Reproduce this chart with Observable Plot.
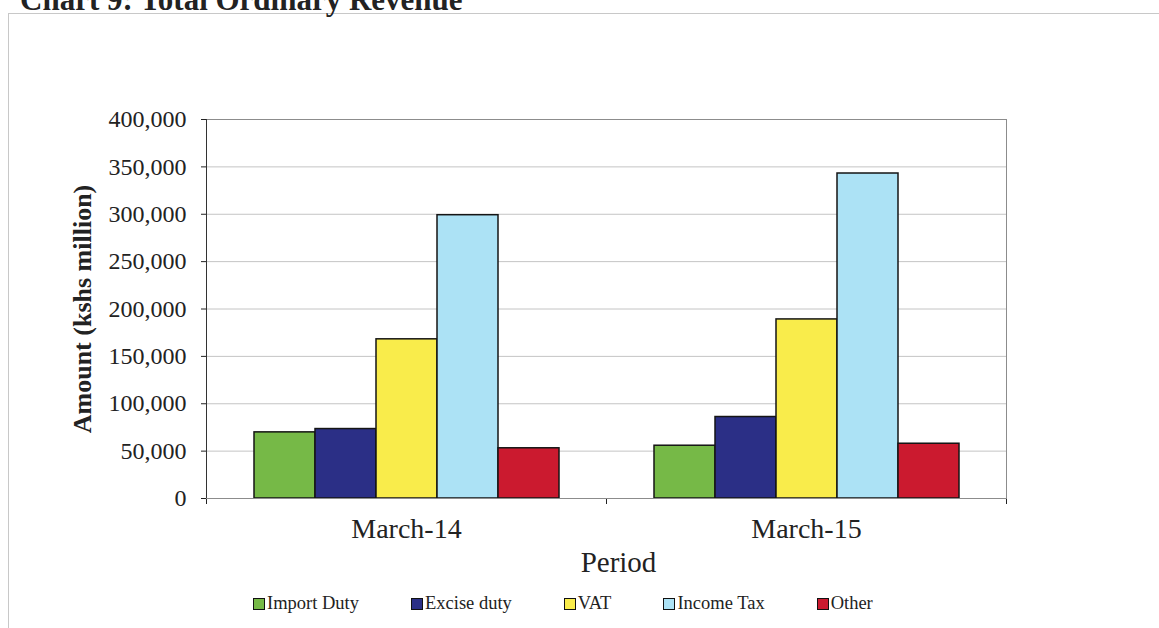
<!DOCTYPE html>
<html>
<head>
<meta charset="utf-8">
<script src="https://cdn.jsdelivr.net/npm/d3@7"></script>
<script src="https://cdn.jsdelivr.net/npm/@observablehq/plot@0.6"></script>
<style>
  body { margin: 0; background: white; }
  #page { position: relative; width: 1159px; height: 628px; overflow: hidden; font-family: "Liberation Serif", serif; color: #222; }
  #box { position: absolute; left: 8px; top: 13px; width: 1400px; height: 900px; border: 1px solid #c8c8c8; }
  #title { position: absolute; left: 20px; top: -16px; font-size: 31px; line-height: 31px; font-weight: bold; white-space: nowrap; }
  #chart { position: absolute; left: 0; top: 0; width: 1159px; height: 580px; }
  #chart svg { position: absolute; left: 0; top: 0; }
  #legend { position: absolute; left: 253px; top: 593px; display: flex; gap: 52px; font-size: 18.5px; }
  #legend .item { display: flex; align-items: center; }
  #legend .sw { width: 10px; height: 10px; border: 1px solid #111; margin-right: 2px; }
</style>
</head>
<body>
<div id="page">
  <div id="box"></div>
  <div id="title">Chart 9: Total Ordinary Revenue</div>
  <div id="chart"></div>
  <div id="legend"></div>
</div>
<script>
// datos (ksh millones)
const periods = ["March-14", "March-15"];
const taxes = ["Import Duty", "Excise duty", "VAT", "Income Tax", "Other"];
const importDuty = [69800, 55700];
const exciseDuty = [73300, 86000];
const vat = [168000, 189000];
const incomeTax = [299000, 343000];
const other = [53000, 57800];
const colors = ["#76b947", "#2b2f86", "#f9ec4b", "#ace2f5", "#cb1a2f"];
const yTicks = [0, 50000, 100000, 150000, 200000, 250000, 300000, 350000, 400000];

const series = [importDuty, exciseDuty, vat, incomeTax, other];
const data = periods.flatMap((p, i) => taxes.map((t, j) => ({period: p, tax: t, amount: series[j][i]})));

const margins = {width: 1159, height: 580, marginLeft: 206, marginRight: 153, marginTop: 119, marginBottom: 82};
const baseStyle = {background: "transparent", fontFamily: "Liberation Serif", fontSize: "24px", color: "#222", overflow: "visible"};

// gráfico principal, una faceta por periodo
let chart = Plot.plot({
  ...margins,
  style: baseStyle,
  fx: {domain: periods, padding: 0, label: "Period", labelAnchor: "center", labelOffset: 73, tickPadding: 20},
  x: {domain: taxes, axis: null, paddingInner: 0, paddingOuter: 0.745},
  y: {
    domain: [0, 400000],
    ticks: yTicks,
    tickFormat: d3.format(","),
    tickSize: 5,
    tickPadding: 15,
    label: "Amount (kshs million)",
    labelArrow: "none",
    labelAnchor: "center",
    labelOffset: 134
  },
  color: {domain: taxes, range: colors},
  marks: [
    Plot.ruleY(yTicks, {stroke: "#c4c4c4"}),
    Plot.barY(data, {fx: "period", x: "tax", y: "amount", fill: "tax", stroke: "#151515", strokeWidth: 1.5}),
    Plot.ruleY([0], {stroke: "#333"})
  ]
});

// marco del área y marcas entre categorías
let frame = Plot.plot({
  ...margins,
  style: {...baseStyle, pointerEvents: "none"},
  x: {domain: [0, periods.length], ticks: periods.length, tickFormat: () => "", tickSize: 6, label: null},
  y: {domain: [0, 1], axis: null},
  marks: [
    Plot.frame({stroke: "#8c8c8c"}),
    Plot.ruleX([0], {stroke: "#333"})
  ]
});

const c = d3.select("#chart");
c.append(() => chart);
c.append(() => frame);

d3.select(chart).selectAll('[aria-label="y-axis label"] text')
  .style("font-weight", "bold").style("font-size", "26px");
d3.select(chart).selectAll('[aria-label="fx-axis tick label"] text').style("font-size", "28px");
d3.select(chart).selectAll('[aria-label="fx-axis label"] text')
  .style("font-size", "29px").attr("dx", 12);

// leyenda
const legend = d3.select("#legend");
taxes.forEach((t, i) => {
  const item = legend.append("span").attr("class", "item");
  item.append("span").attr("class", "sw").style("background", colors[i]);
  item.append("span").text(t);
});
</script>
</body>
</html>
